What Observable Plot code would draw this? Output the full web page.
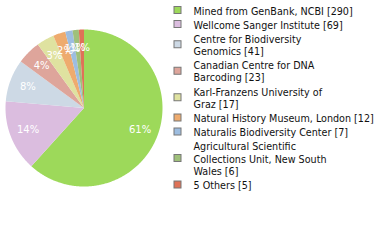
<!DOCTYPE html>
<html><head><meta charset="utf-8">
<script src="https://cdn.jsdelivr.net/npm/d3@7"></script>
<script src="https://cdn.jsdelivr.net/npm/@observablehq/plot@0.6"></script>
<style>body{margin:0;background:#fff}</style>
</head><body><div id="chart"></div>
<script>
const names = ["Mined from GenBank, NCBI", "Wellcome Sanger Institute", "Centre for Biodiversity\nGenomics", "Canadian Centre for DNA\nBarcoding", "Karl-Franzens University of\nGraz", "Natural History Museum, London", "Naturalis Biodiversity Center", "Agricultural Scientific\nCollections Unit, New South\nWales", "5 Others"];
const counts = [290, 69, 41, 23, 17, 12, 7, 6, 5];
const colors = ["#9dd95a", "#dbbddf", "#cdd9e5", "#dea59b", "#dfe2a0", "#eeab6e", "#9dbde0", "#9fc07a", "#df7257"];

const W = 380, H = 240;
const cx = 83.5, cy = 107.5, R = 78.5;
const total = d3.sum(counts);

// pie polygons
const slices = [];
const pctLabels = [];
let acc = 0;
counts.forEach((c, i) => {
  const a0 = acc / total * 2 * Math.PI;
  acc += c;
  const a1 = acc / total * 2 * Math.PI;
  const n = Math.max(2, Math.ceil((a1 - a0) / 0.01));
  slices.push({name: names[i], x: cx, y: cy});
  for (let k = 0; k <= n; k++) {
    const a = a0 + (a1 - a0) * k / n;
    slices.push({name: names[i], x: cx + R * Math.sin(a), y: cy - R * Math.cos(a)});
  }
  slices.push({name: names[i], x: cx, y: cy});
  const am = (a0 + a1) / 2;
  pctLabels.push({text: Math.floor(c / total * 100) + "%", x: cx + 0.765 * R * Math.sin(am), y: cy - 0.765 * R * Math.cos(am)});
});

// legend layout
const LH = 12.5, GAP = 1.5;
const legend = [];
let yTop = 3;
names.forEach((nm, i) => {
  const nl = nm.split("\n").length;
  const h = nl * LH + GAP;
  legend.push({name: nm, label: nm + " [" + counts[i] + "]", y: yTop + h / 2});
  yTop += h;
});

const chart = Plot.plot({
  width: W, height: H,
  margin: 0,
  style: {background: "#fff"},
  x: {domain: [0, W], range: [0, W], axis: null},
  y: {domain: [0, H], range: [0, H], axis: null},
  color: {domain: names, range: colors},
  marks: [
    Plot.line(slices, {x: "x", y: "y", z: "name", fill: "name", stroke: "none", curve: "linear"}),
    Plot.text(pctLabels, {x: "x", y: "y", text: "text", fill: "white", fontSize: 10, fontFamily: "DejaVu Sans", letterSpacing: "0.5px"}),
    Plot.rect(legend, {x1: 174, x2: 181, y1: d => d.y - 3.5, y2: d => d.y + 3.5, fill: "name", stroke: "#777", strokeWidth: 1}),
    Plot.text(legend, {x: 193, y: "y", text: "label", textAnchor: "start", lineAnchor: "middle", lineHeight: 1.3, fontSize: 9.6, fontFamily: "DejaVu Sans", fill: "#111"})
  ]
});
document.getElementById("chart").append(chart);
</script>
</body></html>
